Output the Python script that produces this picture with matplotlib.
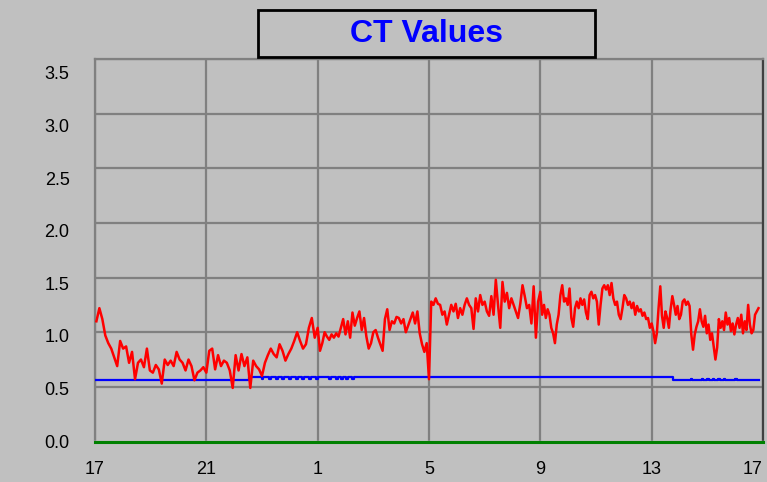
import numpy as np
import matplotlib.pyplot as plt
from matplotlib.patches import Rectangle
from matplotlib.transforms import ScaledTranslation

# CT readings, one list per 4-hour block (17-21, 21-1, 1-5, 5-9, 9-13, 13-17)
ct_block1 = [1.10, 1.22, 1.12, 0.97, 0.90, 0.85, 0.77, 0.69, 0.92, 0.85, 0.87, 0.72,
             0.82, 0.57, 0.72, 0.75, 0.68, 0.85, 0.65, 0.63, 0.70, 0.66, 0.53, 0.75,
             0.70, 0.74, 0.69, 0.82, 0.75, 0.72, 0.65, 0.75, 0.69, 0.56, 0.63, 0.65, 0.68]
ct_block2 = [0.63, 0.83, 0.85, 0.66, 0.79, 0.69, 0.74, 0.72, 0.65, 0.49, 0.79, 0.65,
             0.80, 0.69, 0.77, 0.49, 0.74, 0.69, 0.66, 0.60, 0.72, 0.79, 0.85, 0.80,
             0.77, 0.89, 0.83, 0.74, 0.80, 0.85, 0.92, 1.00, 0.92, 0.85, 0.89, 1.04,
             1.13, 0.95]
ct_block3 = [1.04, 0.83, 0.90, 1.00, 0.96, 0.93, 0.98, 0.95, 0.99, 0.96, 1.04, 1.12,
             0.98, 1.10, 0.95, 1.18, 1.06, 1.13, 1.19, 1.02, 1.13, 0.96, 0.85, 0.90,
             1.00, 1.02, 0.95, 0.89, 0.83, 1.12, 1.21, 1.02, 1.10, 1.08, 1.14, 1.13,
             1.08, 1.12, 1.00, 1.06, 1.12, 1.18, 1.08, 1.19, 0.99, 0.89, 0.82, 0.90]
ct_block4 = [0.57, 1.28, 1.25, 1.31, 1.26, 1.25, 1.16, 1.19, 1.07, 1.16, 1.25, 1.19,
             1.26, 1.13, 1.22, 1.16, 1.25, 1.31, 1.25, 1.22, 1.03, 1.31, 1.19, 1.34,
             1.25, 1.28, 1.19, 1.15, 1.33, 1.16, 1.48, 1.25, 1.04, 1.46, 1.28, 1.36,
             1.22, 1.31, 1.25, 1.19, 1.13, 1.26, 1.43, 1.33, 1.22, 1.25, 1.08, 1.42,
             0.95, 1.28]
ct_block5 = [1.37, 1.16, 1.25, 1.13, 1.21, 1.16, 1.04, 0.99, 0.90, 1.07, 1.16, 1.34,
             1.43, 1.28, 1.31, 1.25, 1.40, 1.13, 1.05, 1.22, 1.28, 1.22, 1.31, 1.25,
             1.30, 1.18, 1.12, 1.34, 1.37, 1.31, 1.34, 1.28, 1.07, 1.25, 1.40, 1.43,
             1.39, 1.43, 1.34, 1.45, 1.31, 1.25, 1.28, 1.16, 1.12, 1.22, 1.34, 1.31,
             1.25, 1.28, 1.22, 1.27, 1.16, 1.24, 1.19, 1.21, 1.15, 1.18, 1.12, 1.13, 1.04]
ct_block6 = [1.08, 1.01, 0.90, 0.99, 1.22, 1.42, 1.15, 1.04, 1.19, 1.13, 1.04, 1.21,
             1.33, 1.25, 1.16, 1.24, 1.12, 1.16, 1.28, 1.30, 1.25, 1.28, 1.24, 0.98,
             0.84, 0.98, 1.05, 1.10, 1.21, 1.10, 1.05, 1.15, 0.99, 1.07, 0.93, 0.99,
             0.87, 0.75, 0.86, 1.12, 1.04, 1.10, 1.02, 1.18, 1.07, 1.13, 1.01, 1.08,
             0.98, 1.07, 1.13, 1.04, 1.16, 0.99, 1.10, 1.02, 1.25, 1.07, 0.99, 1.02,
             1.16, 1.19, 1.22]
ct_blocks = [ct_block1, ct_block2, ct_block3, ct_block4, ct_block5, ct_block6]
block_start = [0.05, 4, 8, 12, 16, 20]
block_end = [4, 8, 12, 16, 20, 23.9]

# second (blue) trace, step values
blue_hours = [0, 5.54, 6.0, 6.05, 6.26, 6.31, 6.51, 6.56, 6.73, 6.78, 6.98, 7.03,
              7.23, 7.28, 7.45, 7.5, 7.7, 7.75, 7.95, 8.0, 8.42, 8.47, 8.67, 8.72,
              8.85, 8.9, 9.03, 9.08, 9.24, 9.29, 20.75, 21.4, 21.45, 21.8, 21.85,
              22.0, 22.05, 22.2, 22.25, 22.4, 22.45, 22.6, 22.65, 23.0, 23.05, 23.87]
blue_ct = [0.565, 0.59, 0.57, 0.59, 0.57, 0.59, 0.57, 0.59, 0.57, 0.59, 0.57, 0.59,
           0.57, 0.59, 0.57, 0.59, 0.57, 0.59, 0.57, 0.59, 0.57, 0.59, 0.57, 0.59,
           0.57, 0.59, 0.57, 0.59, 0.57, 0.59, 0.56, 0.575, 0.56, 0.575, 0.56,
           0.575, 0.56, 0.575, 0.56, 0.575, 0.56, 0.575, 0.56, 0.575, 0.56, 0.56]

# baseline (green)
green_hours = [0, 24]
green_ct = [0.0, 0.0]

x_ticks = [0, 4, 8, 12, 16, 20, 24]
x_labels = ['17', '21', '1', '5', '9', '13', '17']
y_ticks = [0.0, 0.5, 1.0, 1.5, 2.0, 2.5, 3.0, 3.5]

bg = '#c0c0c0'
plt.rcParams['font.family'] = ['Liberation Sans', 'DejaVu Sans']

fig = plt.figure(figsize=(7.67, 4.82), dpi=100, facecolor=bg)
ax = fig.add_axes([95 / 767, 1 - 441.5 / 482, 668 / 767, 382.5 / 482])
ax.set_facecolor(bg)

hours = np.concatenate([np.linspace(s, e, len(v), endpoint=False)
                        for s, e, v in zip(block_start, block_end, ct_blocks)])
ct = np.concatenate(ct_blocks)

ax.plot(green_hours, green_ct, color='#008000', lw=2.2, zorder=3, clip_on=False)
ax.plot(blue_hours, blue_ct, color='#0000ff', lw=1.6, drawstyle='steps-post', zorder=3)
ax.plot(hours, ct, color='#ff0000', lw=1.8, zorder=4)

ax.set_xlim(0, 24)
ax.set_ylim(0, 3.5)
ax.set_xticks(x_ticks)
ax.set_xticklabels(x_labels)
ax.set_yticks(y_ticks)
ax.set_yticklabels([])
ax.tick_params(length=0, labelsize=13, colors='black')
ax.tick_params(axis='x', pad=14)
ax.xaxis.get_ticklabels()[-1].set_horizontalalignment('right')
ax.xaxis.get_ticklabels()[-1].set_x(24)
ax.grid(True, color='#808080', lw=1.6)
ax.set_axisbelow(True)

# y labels sit a little below their gridlines, as in the old chart control
ylab_tr = ax.get_yaxis_transform()
for v in y_ticks:
    off = (1.5 + 4.1 * v) / 100
    ax.text(-0.038, v, f'{v:.1f}', ha='right', va='center', fontsize=13,
            transform=ylab_tr + ScaledTranslation(0, -off, fig.dpi_scale_trans))

for side in ['left', 'top']:
    ax.spines[side].set_color('#808080')
    ax.spines[side].set_linewidth(1.6)
ax.spines['right'].set_color('#404040')
ax.spines['right'].set_linewidth(1.6)
ax.spines['bottom'].set_color('white')
ax.spines['bottom'].set_linewidth(1.6)

# title box
fig.add_artist(Rectangle((258 / 767, 1 - 57 / 482), 337 / 767, 47 / 482,
                         transform=fig.transFigure, fill=False,
                         edgecolor='black', lw=2))
fig.text(426.5 / 767, 1 - 33.5 / 482, 'CT Values', color='#0000ff',
         fontsize=23, fontweight='bold', ha='center', va='center')

fig.savefig('out.png', dpi=100, facecolor=bg)
